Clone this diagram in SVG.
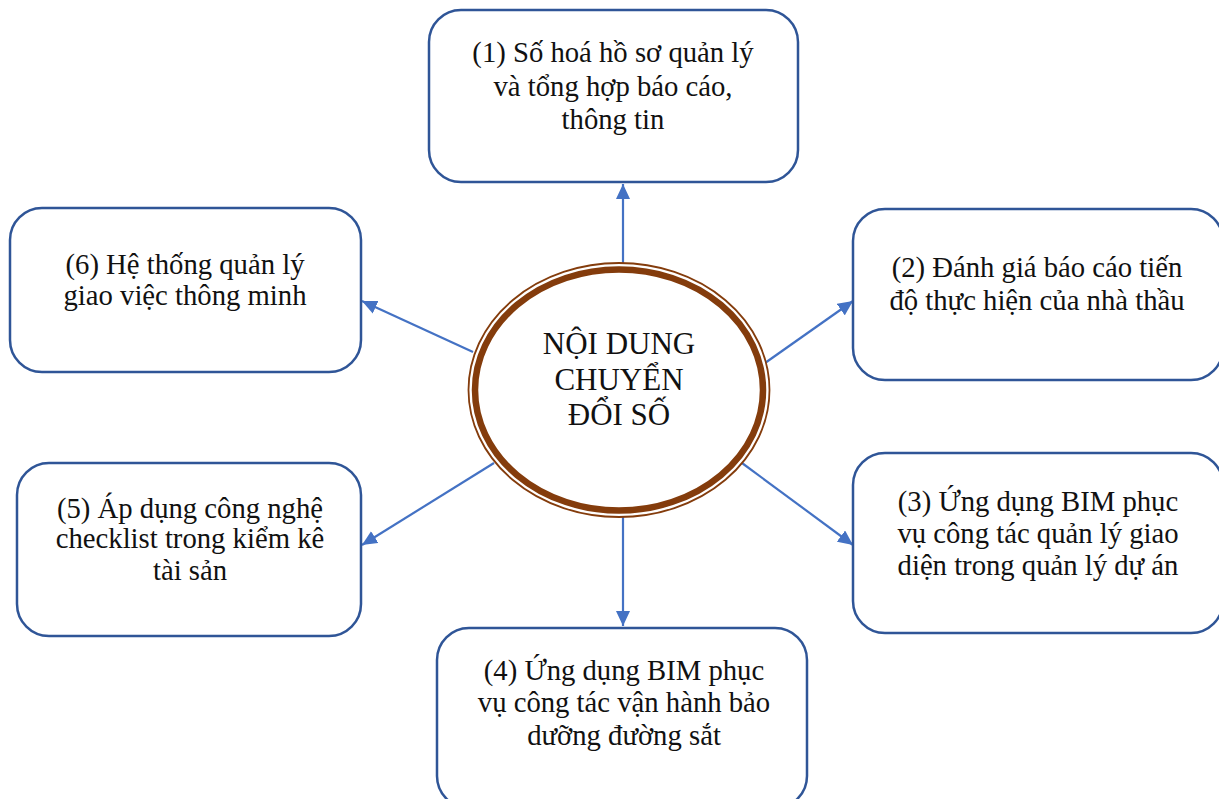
<svg xmlns="http://www.w3.org/2000/svg" width="1219" height="799" viewBox="0 0 1219 799">
<style>
.box{fill:#fff;stroke:#2F5597;stroke-width:2.5}
.t{font-family:"Liberation Serif","Times New Roman",serif;font-size:28.7px;fill:#111;text-anchor:middle}
.c{font-family:"Liberation Serif","Times New Roman",serif;font-size:31px;fill:#111;text-anchor:middle}
.con{stroke:#4472C4;stroke-width:2.2;fill:none;marker-end:url(#arr)}
</style>
<defs>
<marker id="arr" markerUnits="userSpaceOnUse" markerWidth="16" markerHeight="14" refX="15" refY="7" orient="auto">
<path d="M0,0 L15,7 L0,14 Z" fill="#4472C4"/>
</marker>
</defs>
<rect width="1219" height="799" fill="#fff"/>
<g id="connectors">
<line class="con" x1="623" y1="268" x2="623" y2="184"/>
<line class="con" x1="765" y1="363" x2="853" y2="301"/>
<line class="con" x1="742" y1="463" x2="853" y2="545"/>
<line class="con" x1="623" y1="517" x2="623" y2="626"/>
<line class="con" x1="494" y1="463" x2="362" y2="545"/>
<line class="con" x1="473" y1="352" x2="362" y2="301"/>
</g>
<g id="center">
<ellipse cx="619" cy="390" rx="150.5" ry="127" fill="#fff" stroke="#843C0C" stroke-width="1.8"/>
<ellipse cx="619" cy="390" rx="144" ry="120.5" fill="#fff" stroke="#843C0C" stroke-width="6.5"/>
<text class="c" x="619" y="354">NỘI DUNG</text>
<text class="c" x="619" y="390">CHUYỂN</text>
<text class="c" x="619" y="425">ĐỔI SỐ</text>
</g>
<g id="n1">
<rect class="box" x="429" y="10" width="369" height="172" rx="32"/>
<text class="t" x="613" y="62">(1) Số hoá hồ sơ quản lý</text>
<text class="t" x="613" y="96">và tổng hợp báo cáo,</text>
<text class="t" x="613" y="129">thông tin</text>
</g>
<g id="n2">
<rect class="box" x="853" y="209" width="370" height="171" rx="32"/>
<text class="t" x="1037" y="277">(2) Đánh giá báo cáo tiến</text>
<text class="t" x="1037" y="310">độ thực hiện của nhà thầu</text>
</g>
<g id="n3">
<rect class="box" x="853" y="453" width="370" height="180" rx="32"/>
<text class="t" x="1038" y="511">(3) Ứng dụng BIM phục</text>
<text class="t" x="1038" y="543">vụ công tác quản lý giao</text>
<text class="t" x="1038" y="575">diện trong quản lý dự án</text>
</g>
<g id="n4">
<rect class="box" x="437" y="628" width="370" height="180" rx="32"/>
<text class="t" x="624" y="680">(4) Ứng dụng BIM phục</text>
<text class="t" x="624" y="712">vụ công tác vận hành bảo</text>
<text class="t" x="624" y="745">dưỡng đường sắt</text>
</g>
<g id="n5">
<rect class="box" x="17" y="463" width="344" height="173" rx="32"/>
<text class="t" x="190" y="518">(5) Áp dụng công nghệ</text>
<text class="t" x="190" y="548">checklist trong kiểm kê</text>
<text class="t" x="190" y="580">tài sản</text>
</g>
<g id="n6">
<rect class="box" x="10" y="208" width="351" height="164" rx="32"/>
<text class="t" x="185" y="274">(6) Hệ thống quản lý</text>
<text class="t" x="185" y="305">giao việc thông minh</text>
</g>
</svg>
